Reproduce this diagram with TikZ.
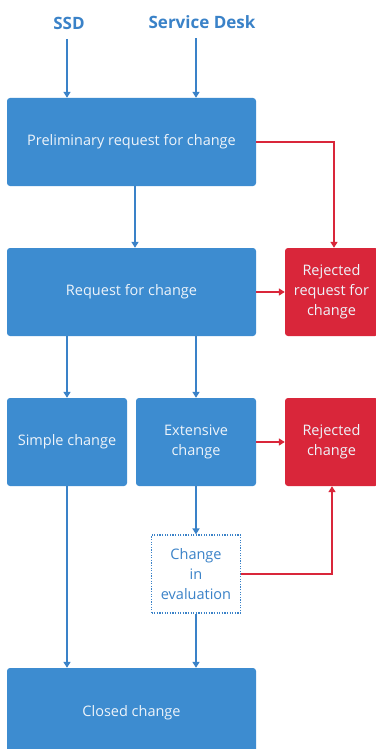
\documentclass[tikz,border=0pt]{standalone}
\usepackage{fontspec}
\setmainfont{Open Sans}
\usetikzlibrary{arrows.meta,positioning}
\definecolor{boxblue}{HTML}{3D8CD0}
\definecolor{lineblue}{HTML}{3A82C8}
\definecolor{rejred}{HTML}{D9263A}
\definecolor{textwhite}{HTML}{EEF4FA}
\tikzset{
  stepbox/.style={
    rectangle, rounded corners=3pt, fill=boxblue, draw=none,
    text=textwhite, font=\fontsize{14.5}{20}\selectfont,
    align=center, inner sep=2pt,
    minimum width=#1, minimum height=88pt
  },
  stepbox/.default=249pt,
  rejectbox/.style={
    rectangle, rounded corners=3pt, fill=rejred, draw=none,
    text=textwhite, font=\fontsize{14.5}{20}\selectfont,
    align=center, inner sep=2pt,
    minimum width=93pt, minimum height=88pt
  },
  evalbox/.style={
    rectangle, draw=lineblue, line width=1.2pt,
    dash pattern=on 1.2pt off 1.4pt, fill=white,
    text=lineblue, font=\fontsize{14.5}{20}\selectfont,
    align=center, inner sep=2pt,
    minimum width=89pt, minimum height=78pt
  },
  sourcelabel/.style={
    font=\fontsize{17}{20}\selectfont\bfseries, text=lineblue
  },
  flowarrow/.style={
    -{Triangle[length=6pt,width=7pt]}, line width=1.8pt, color=#1
  },
  flowarrow/.default=lineblue,
}
\begin{document}
\begin{tikzpicture}[x=1pt,y=-1pt]
\useasboundingbox[fill=white] (0,0) rectangle (375,749);

% Sources
\node[sourcelabel] (ssd) at (69,23) {SSD};
\node[sourcelabel] (desk) at (202,22) {Service Desk};

% Main flow
\node[stepbox] (pre) at (131.5,142) {Preliminary request for change};
\node[stepbox] (req) at (131.5,292) {Request for change};
\node[stepbox=120pt] (simple) at (67,442) {Simple change};
\node[stepbox=120pt] (ext) at (196,442) {Extensive\\change};
\node[evalbox] (eval) at (196,574) {Change\\in\\evaluation};
\node[stepbox, minimum height=90pt] (closed) at (131.5,713) {Closed change};

% Rejections
\node[rejectbox] (rejreq) at (331.5,292) {Rejected\\request for\\change};
\node[rejectbox] (rejchg) at (331.5,442) {Rejected\\change};

% Blue arrows
\draw[flowarrow] ([yshift=-6pt]ssd.south -| simple) -- (pre.north -| simple);
\draw[flowarrow] ([yshift=-6pt]desk.south -| ext) -- (pre.north -| ext);
\draw[flowarrow] ([xshift=3.5pt]pre.south) -- ([xshift=3.5pt]req.north);
\draw[flowarrow] (req.south -| simple) -- (simple);
\draw[flowarrow] (req.south -| ext) -- (ext);
\draw[flowarrow] (ext) -- (eval);
\draw[flowarrow] (simple) -- (simple |- closed.north);
\draw[flowarrow] (eval) -- (eval |- closed.north);

% Red arrows
\draw[flowarrow=rejred] (pre.east) -| ([xshift=2.5pt]rejreq.north);
\draw[flowarrow=rejred] (req) -- (rejreq);
\draw[flowarrow=rejred] (ext) -- (rejchg);
\draw[flowarrow=rejred] (eval.east) -| ([xshift=0.5pt]rejchg.south);

\end{tikzpicture}
\end{document}
